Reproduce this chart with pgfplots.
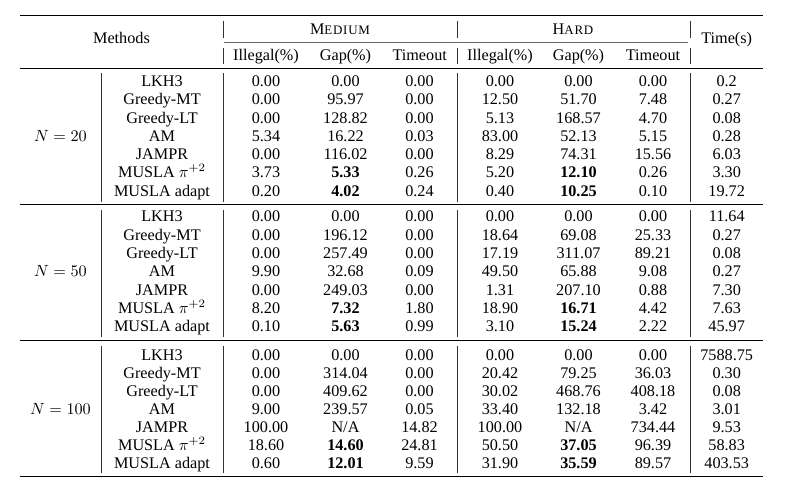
\documentclass[border=0pt]{standalone}
\usepackage{fontspec}
\setmainfont{Liberation Serif}
\usepackage{pgfplots}
\pgfplotsset{compat=1.18}
\newcommand{\sck}[1]{{\addfontfeatures{LetterSpace=6}\fontsize{8}{9}\selectfont #1}}
\begin{document}
\begin{tikzpicture}
\begin{axis}[
  scale only axis, width=486.4pt, height=301.9pt,
  xmin=0, xmax=788, ymin=0, ymax=489, y dir=reverse,
  axis lines=none, ticks=none, clip=false,
  rule/.style={black, line width=0.8pt, mark=none},
  thinrule/.style={black, line width=0.6pt, mark=none},
  vr/.style={black!80, line width=0.5pt, mark=none},
  txt/.style={draw=none, mark=none, point meta=explicit symbolic, nodes near coords,
    every node near coord/.append style={anchor=base, inner sep=0pt, text=black}},
]
% frame for bounding box
\addplot[draw=none, mark=none] coordinates {(0,0) (788,489)};
% horizontal rules
\addplot[rule] coordinates {(20,15.7) (763,15.7)};
\addplot[black!60, line width=0.45pt, mark=none] coordinates {(224,42.3) (688,42.3)};
\addplot[thinrule] coordinates {(20,68.2) (763,68.2)};
\addplot[thinrule] coordinates {(20,204.5) (763,204.5)};
\addplot[thinrule] coordinates {(20,340.7) (763,340.7)};
\addplot[rule] coordinates {(20,476.7) (763,476.7)};
% vertical rules
\addplot[vr] coordinates {(223,21) (223,37.5)};
\addplot[vr] coordinates {(223,47.5) (223,64)};
\addplot[vr] coordinates {(457,21) (457,37.5)};
\addplot[vr] coordinates {(457,47.5) (457,64)};
\addplot[vr] coordinates {(690,21) (690,37.5)};
\addplot[vr] coordinates {(690,47.5) (690,64)};
\addplot[vr] coordinates {(101,73) (101,201.5)};
\addplot[vr] coordinates {(223,73) (223,201.5)};
\addplot[vr] coordinates {(457,73) (457,201.5)};
\addplot[vr] coordinates {(690,73) (690,201.5)};
\addplot[vr] coordinates {(101,209.5) (101,337)};
\addplot[vr] coordinates {(223,209.5) (223,337)};
\addplot[vr] coordinates {(457,209.5) (457,337)};
\addplot[vr] coordinates {(690,209.5) (690,337)};
\addplot[vr] coordinates {(101,346) (101,473)};
\addplot[vr] coordinates {(223,346) (223,473)};
\addplot[vr] coordinates {(457,346) (457,473)};
\addplot[vr] coordinates {(690,346) (690,473)};
% header
\addplot[txt] coordinates {(121.5,43.3) [Methods] (340,34) [M\sck{EDIUM}] (573,34) [H\sck{ARD}] (726.7,43.3) [Time(s)]};
\addplot[txt] coordinates {(266,60.5) [Illegal(\%)] (345.5,60.5) [Gap(\%)] (419.7,60.5) [Timeout] (500,60.5) [Illegal(\%)] (578.5,60.5) [Gap(\%)] (653,60.5) [Timeout]};
% N labels
\addplot[txt] coordinates {(60.5,141.25) [$N=20$] (60.5,276.7) [$N=50$] (60.5,414.2) [$N=100$]};
% block N=20
\addplot[txt] coordinates {(162,86.5) [LKH3] (266,86.5) [0.00] (345.5,86.5) [0.00] (419.5,86.5) [0.00] (500,86.5) [0.00] (578.5,86.5) [0.00] (653,86.5) [0.00] (726.7,86.5) [0.2]};
\addplot[txt] coordinates {(162,104.75) [Greedy-MT] (266,104.75) [0.00] (345.5,104.75) [95.97] (419.5,104.75) [0.00] (500,104.75) [12.50] (578.5,104.75) [51.70] (653,104.75) [7.48] (726.7,104.75) [0.27]};
\addplot[txt] coordinates {(162,123) [Greedy-LT] (266,123) [0.00] (345.5,123) [128.82] (419.5,123) [0.00] (500,123) [5.13] (578.5,123) [168.57] (653,123) [4.70] (726.7,123) [0.08]};
\addplot[txt] coordinates {(162,141.25) [AM] (266,141.25) [5.34] (345.5,141.25) [16.22] (419.5,141.25) [0.03] (500,141.25) [83.00] (578.5,141.25) [52.13] (653,141.25) [5.15] (726.7,141.25) [0.28]};
\addplot[txt] coordinates {(162,159.5) [JAMPR] (266,159.5) [0.00] (345.5,159.5) [116.02] (419.5,159.5) [0.00] (500,159.5) [8.29] (578.5,159.5) [74.31] (653,159.5) [15.56] (726.7,159.5) [6.03]};
\addplot[txt] coordinates {(162,177.75) [MUSLA $\pi^{+2}$] (266,177.75) [3.73] (345.5,177.75) [\textbf{5.33}] (419.5,177.75) [0.26] (500,177.75) [5.20] (578.5,177.75) [\textbf{12.10}] (653,177.75) [0.26] (726.7,177.75) [3.30]};
\addplot[txt] coordinates {(162,196) [MUSLA adapt] (266,196) [0.20] (345.5,196) [\textbf{4.02}] (419.5,196) [0.24] (500,196) [0.40] (578.5,196) [\textbf{10.25}] (653,196) [0.10] (726.7,196) [19.72]};
% block N=50
\addplot[txt] coordinates {(162,221.7) [LKH3] (266,221.7) [0.00] (345.5,221.7) [0.00] (419.5,221.7) [0.00] (500,221.7) [0.00] (578.5,221.7) [0.00] (653,221.7) [0.00] (726.7,221.7) [11.64]};
\addplot[txt] coordinates {(162,240) [Greedy-MT] (266,240) [0.00] (345.5,240) [196.12] (419.5,240) [0.00] (500,240) [18.64] (578.5,240) [69.08] (653,240) [25.33] (726.7,240) [0.27]};
\addplot[txt] coordinates {(162,258.3) [Greedy-LT] (266,258.3) [0.00] (345.5,258.3) [257.49] (419.5,258.3) [0.00] (500,258.3) [17.19] (578.5,258.3) [311.07] (653,258.3) [89.21] (726.7,258.3) [0.08]};
\addplot[txt] coordinates {(162,276.7) [AM] (266,276.7) [9.90] (345.5,276.7) [32.68] (419.5,276.7) [0.09] (500,276.7) [49.50] (578.5,276.7) [65.88] (653,276.7) [9.08] (726.7,276.7) [0.27]};
\addplot[txt] coordinates {(162,295) [JAMPR] (266,295) [0.00] (345.5,295) [249.03] (419.5,295) [0.00] (500,295) [1.31] (578.5,295) [207.10] (653,295) [0.88] (726.7,295) [7.30]};
\addplot[txt] coordinates {(162,313.3) [MUSLA $\pi^{+2}$] (266,313.3) [8.20] (345.5,313.3) [\textbf{7.32}] (419.5,313.3) [1.80] (500,313.3) [18.90] (578.5,313.3) [\textbf{16.71}] (653,313.3) [4.42] (726.7,313.3) [7.63]};
\addplot[txt] coordinates {(162,331.7) [MUSLA adapt] (266,331.7) [0.10] (345.5,331.7) [\textbf{5.63}] (419.5,331.7) [0.99] (500,331.7) [3.10] (578.5,331.7) [\textbf{15.24}] (653,331.7) [2.22] (726.7,331.7) [45.97]};
% block N=100
\addplot[txt] coordinates {(162,360) [LKH3] (266,360) [0.00] (345.5,360) [0.00] (419.5,360) [0.00] (500,360) [0.00] (578.5,360) [0.00] (653,360) [0.00] (726.7,360) [7588.75]};
\addplot[txt] coordinates {(162,378) [Greedy-MT] (266,378) [0.00] (345.5,378) [314.04] (419.5,378) [0.00] (500,378) [20.42] (578.5,378) [79.25] (653,378) [36.03] (726.7,378) [0.30]};
\addplot[txt] coordinates {(162,396.1) [Greedy-LT] (266,396.1) [0.00] (345.5,396.1) [409.62] (419.5,396.1) [0.00] (500,396.1) [30.02] (578.5,396.1) [468.76] (653,396.1) [408.18] (726.7,396.1) [0.08]};
\addplot[txt] coordinates {(162,414.2) [AM] (266,414.2) [9.00] (345.5,414.2) [239.57] (419.5,414.2) [0.05] (500,414.2) [33.40] (578.5,414.2) [132.18] (653,414.2) [3.42] (726.7,414.2) [3.01]};
\addplot[txt] coordinates {(162,432.2) [JAMPR] (266,432.2) [100.00] (345.5,432.2) [N/A] (419.5,432.2) [14.82] (500,432.2) [100.00] (578.5,432.2) [N/A] (653,432.2) [734.44] (726.7,432.2) [9.53]};
\addplot[txt] coordinates {(162,450.3) [MUSLA $\pi^{+2}$] (266,450.3) [18.60] (345.5,450.3) [\textbf{14.60}] (419.5,450.3) [24.81] (500,450.3) [50.50] (578.5,450.3) [\textbf{37.05}] (653,450.3) [96.39] (726.7,450.3) [58.83]};
\addplot[txt] coordinates {(162,468.3) [MUSLA adapt] (266,468.3) [0.60] (345.5,468.3) [\textbf{12.01}] (419.5,468.3) [9.59] (500,468.3) [31.90] (578.5,468.3) [\textbf{35.59}] (653,468.3) [89.57] (726.7,468.3) [403.53]};
\end{axis}
\end{tikzpicture}
\end{document}
